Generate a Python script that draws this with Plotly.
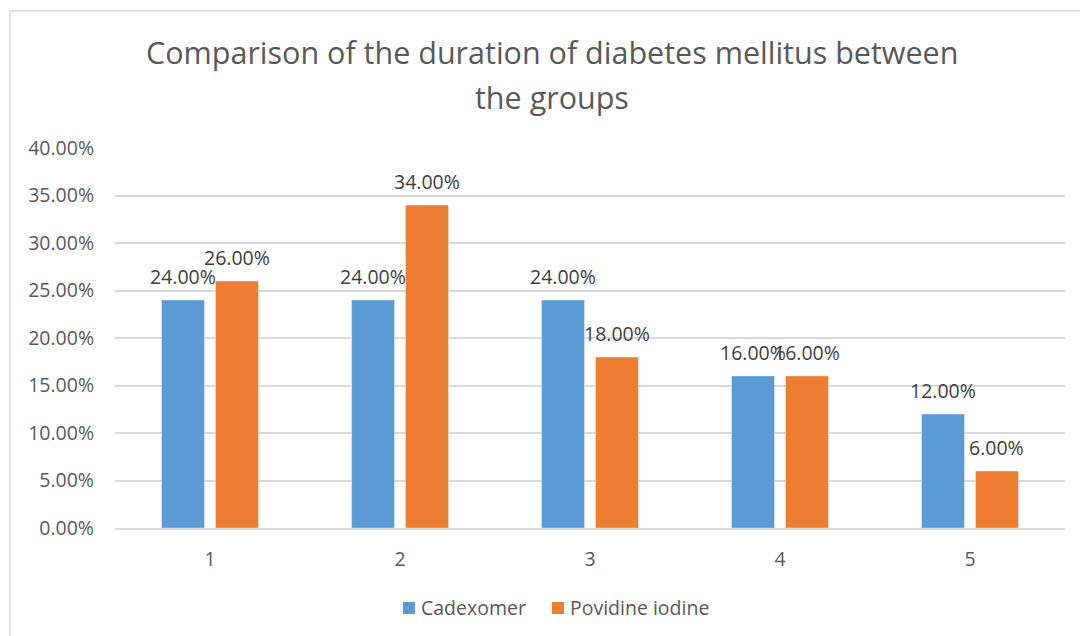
import plotly.graph_objects as go

# Duration-of-diabetes categories and the share of patients in each group
categories = [1, 2, 3, 4, 5]
cadexomer = [0.24, 0.24, 0.24, 0.16, 0.12]
povidine_iodine = [0.26, 0.34, 0.18, 0.16, 0.06]
y_ticks = [0.0, 0.05, 0.10, 0.15, 0.20, 0.25, 0.30, 0.35, 0.40]
series_names = ["Cadexomer", "Povidine iodine"]

title_lines = ["Comparison of the duration of diabetes mellitus between", "the groups"]

BLUE = "#5B9BD5"
ORANGE = "#ED7D31"
TEXT = "#595959"
GRID = "#D9D9D9"
FONT = "Open Sans"

W, H = 1080, 636
M_L, M_R, M_T, M_B = 115, 15, 148, 108
PLOT_W = W - M_L - M_R
PLOT_H = H - M_T - M_B

BARGAP = 0.432
BARGROUPGAP = 0.204


def px_x(px):
    return (px - M_L) / PLOT_W


def px_y(py):
    return (H - M_B - py) / PLOT_H


fig = go.Figure()
fig.add_bar(x=categories, y=cadexomer, name=series_names[0], marker_color=BLUE)
fig.add_bar(x=categories, y=povidine_iodine, name=series_names[1], marker_color=ORANGE)

# value labels above each bar
slot = (1 - BARGAP) / 2
for series, sign in ((cadexomer, -1), (povidine_iodine, 1)):
    for c, v in zip(categories, series):
        fig.add_annotation(
            x=c + sign * slot / 2, y=v, xref="x", yref="y",
            text=f"{v:.2%}", showarrow=False,
            yanchor="middle", yshift=24,
            font=dict(family=FONT, size=19.5, color="#404040"),
        )

# two-line chart title
for i, line in enumerate(title_lines):
    fig.add_annotation(
        x=px_x(552), y=px_y(52 + i * 45),
        xref="paper", yref="paper", text=line, showarrow=False,
        xanchor="center", yanchor="middle",
        font=dict(family=FONT, size=30.5, color=TEXT),
    )

# legend: colour square followed by the series name
legend_items = [(series_names[0], BLUE, 403), (series_names[1], ORANGE, 552)]
for name, color, left in legend_items:
    fig.add_shape(
        type="rect", xref="paper", yref="paper",
        x0=px_x(left), x1=px_x(left + 12), y0=px_y(614), y1=px_y(602),
        fillcolor=color, line=dict(width=0),
    )
    fig.add_annotation(
        x=px_x(left + 16), y=px_y(607), xref="paper", yref="paper",
        text=name, showarrow=False, xanchor="left", yanchor="middle",
        font=dict(family=FONT, size=19.5, color=TEXT),
    )

# chart-area frame
fig.add_shape(
    type="rect", xref="paper", yref="paper",
    x0=px_x(10), x1=px_x(1100), y0=px_y(660), y1=px_y(11),
    line=dict(color=GRID, width=1.5), layer="below",
)

fig.update_layout(
    width=W, height=H,
    margin=dict(l=M_L, r=M_R, t=M_T, b=M_B),
    paper_bgcolor="white", plot_bgcolor="white",
    barmode="group", bargap=BARGAP, bargroupgap=BARGROUPGAP,
    font=dict(family=FONT, size=19.5, color=TEXT),
    showlegend=False,
)
fig.update_xaxes(
    range=[0.5, 5.5], tickvals=categories, ticktext=[str(c) for c in categories],
    showgrid=False, showline=True, linecolor=GRID, linewidth=1.5,
    ticks="", ticklabelstandoff=13, zeroline=False,
)
fig.update_yaxes(
    range=[0, 0.40], tickvals=y_ticks, tickformat=".2%",
    showgrid=True, gridcolor=GRID, gridwidth=1.5, zeroline=False,
    showline=False, ticks="", ticklabelstandoff=20,
)

fig.write_html("out.html")
